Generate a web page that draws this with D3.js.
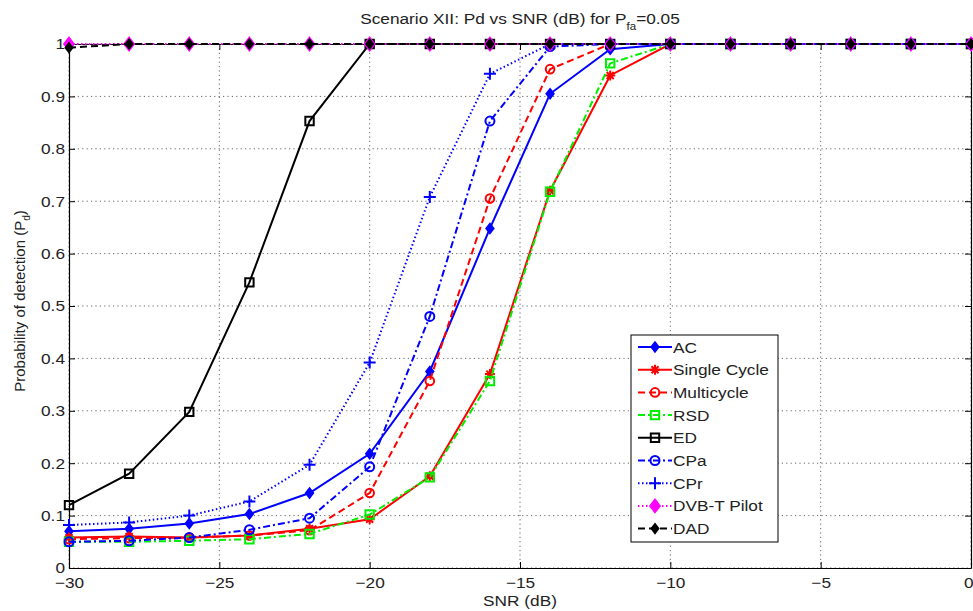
<!DOCTYPE html>
<html>
<head>
<meta charset="utf-8">
<script src="https://cdn.jsdelivr.net/npm/d3@7"></script>
<style>
  html, body { margin: 0; padding: 0; background: #fff; }
  svg text { font-family: "Liberation Sans", Arial, Helvetica, sans-serif; fill: #222; }
</style>
</head>
<body>
<svg id="chart" width="973" height="611"></svg>
<script>
// SNR sweep (dB) and detection probabilities per detector
const snr = [-30, -28, -26, -24, -22, -20, -18, -16, -14, -12, -10, -8, -6, -4, -2, 0];

const pdAC     = [0.070, 0.075, 0.085, 0.103, 0.143, 0.218, 0.375, 0.648, 0.905, 0.990, 1, 1, 1, 1, 1, 1];
const pdSingle = [0.058, 0.060, 0.058, 0.062, 0.075, 0.093, 0.175, 0.370, 0.720, 0.940, 1, 1, 1, 1, 1, 1];
const pdMulti  = [0.055, 0.057, 0.058, 0.062, 0.072, 0.143, 0.357, 0.705, 0.952, 1, 1, 1, 1, 1, 1, 1];
const pdRSD    = [0.050, 0.050, 0.052, 0.055, 0.065, 0.102, 0.173, 0.357, 0.718, 0.963, 1, 1, 1, 1, 1, 1];
const pdED     = [0.120, 0.180, 0.298, 0.545, 0.853, 1, 1, 1, 1, 1, 1, 1, 1, 1, 1, 1];
const pdCPa    = [0.050, 0.052, 0.058, 0.073, 0.095, 0.193, 0.480, 0.853, 0.995, 1, 1, 1, 1, 1, 1, 1];
const pdCPr    = [0.082, 0.087, 0.100, 0.127, 0.197, 0.392, 0.708, 0.943, 1, 1, 1, 1, 1, 1, 1, 1];
const pdDVBT   = [1, 1, 1, 1, 1, 1, 1, 1, 1, 1, 1, 1, 1, 1, 1, 1];
const pdDAD    = [0.993, 1, 1, 1, 1, 1, 1, 1, 1, 1, 1, 1, 1, 1, 1, 1];

const seriesNames = ["AC", "Single Cycle", "Multicycle", "RSD", "ED", "CPa", "CPr", "DVB-T Pilot", "DAD"];
const seriesValues = [pdAC, pdSingle, pdMulti, pdRSD, pdED, pdCPa, pdCPr, pdDVBT, pdDAD];

const xTicks = [-30, -25, -20, -15, -10, -5, 0];
const yTicks = [0, 0.1, 0.2, 0.3, 0.4, 0.5, 0.6, 0.7, 0.8, 0.9, 1];

// Line / marker styling per detector
const styles = [
  { color: "#0000ff", dash: null,          marker: "diamond",  fill: "#0000ff", size: 3.6 },
  { color: "#ff0000", dash: null,          marker: "asterisk", fill: "none",    size: 5 },
  { color: "#ff0000", dash: "7,4",         marker: "circle",   fill: "none",    size: 4.3 },
  { color: "#00ee00", dash: "7,3,2,3",     marker: "square",   fill: "none",    size: 4.2 },
  { color: "#000000", dash: null,          marker: "square",   fill: "none",    size: 4.2 },
  { color: "#0000ff", dash: "7,3,2,3",     marker: "circle",   fill: "none",    size: 4.5 },
  { color: "#0000ff", dash: "1.5,2.5",     marker: "plus",     fill: "none",    size: 6 },
  { color: "#ff00ff", dash: "1.5,2.5",     marker: "diamond",  fill: "#ff00ff", size: 4.8 },
  { color: "#000000", dash: "7,4",         marker: "diamond",  fill: "#000000", size: 3.4 }
];

const FONT = 15;        // text size
const STRETCH = 1.15;   // horizontal glyph stretch of all labels

const svg = d3.select("#chart");
const W = 973, H = 611;
const plot = { left: 69, right: 971, top: 44, bottom: 568 };

svg.append("rect").attr("width", W).attr("height", H).attr("fill", "#fff");

const x = d3.scaleLinear().domain([-30, 0]).range([plot.left, plot.right]);
const y = d3.scaleLinear().domain([0, 1]).range([plot.bottom, plot.top]);

// Dotted grid
const grid = svg.append("g").attr("stroke", "#333").attr("stroke-width", 1)
  .attr("stroke-dasharray", "1.2,3.2").attr("opacity", 0.75);
xTicks.forEach(t => grid.append("line")
  .attr("x1", x(t)).attr("x2", x(t)).attr("y1", plot.top).attr("y2", plot.bottom));
yTicks.forEach(t => grid.append("line")
  .attr("x1", plot.left).attr("x2", plot.right).attr("y1", y(t)).attr("y2", y(t)));

// Axes with inward ticks on all four sides
const tickFmt = d3.format("~g");
const axB = svg.append("g").attr("transform", `translate(0,${plot.bottom})`)
  .call(d3.axisBottom(x).tickValues(xTicks).tickSizeInner(-6).tickSizeOuter(0).tickPadding(9).tickFormat(tickFmt));
const axL = svg.append("g").attr("transform", `translate(${plot.left},0)`)
  .call(d3.axisLeft(y).tickValues(yTicks).tickSizeInner(-6).tickSizeOuter(0).tickPadding(4).tickFormat(tickFmt));
const axT = svg.append("g").attr("transform", `translate(0,${plot.top})`)
  .call(d3.axisTop(x).tickValues(xTicks).tickSizeInner(-6).tickSizeOuter(0).tickFormat(""));
const axR = svg.append("g").attr("transform", `translate(${plot.right},0)`)
  .call(d3.axisRight(y).tickValues(yTicks).tickSizeInner(-6).tickSizeOuter(0).tickFormat(""));
[axB, axL, axT, axR].forEach(a => {
  a.select(".domain").attr("stroke", "#000").attr("stroke-width", 1.2);
  a.selectAll(".tick line").attr("stroke", "#000");
  a.selectAll("text").style("font-size", FONT + "px").attr("fill", "#222");
});
// widen tick label glyphs about their anchor point
axB.selectAll(".tick text").attr("transform", `scale(${STRETCH},1)`);
axL.selectAll(".tick text").each(function () {
  const t = d3.select(this);
  const tx = +t.attr("x");
  t.attr("x", 0).attr("transform", `translate(${tx},0) scale(${STRETCH},1)`);
});
// keep the rightmost x label inside the canvas
axB.selectAll(".tick text").filter(d => d === 0)
  .attr("text-anchor", "end").attr("transform", `translate(2,0) scale(${STRETCH},1)`);

// Marker shapes
function markerPath(type, s) {
  switch (type) {
    case "diamond": return `M0,${-s * 1.3}L${s},0L0,${s * 1.3}L${-s},0Z`;
    case "square":  return `M${-s},${-s}H${s}V${s}H${-s}Z`;
    case "circle":  return `M${s},0A${s},${s} 0 1,1 ${-s},0A${s},${s} 0 1,1 ${s},0Z`;
    case "plus":    return `M${-s},0H${s}M0,${-s}V${s}`;
    case "asterisk": {
      const d = s * 0.7;
      return `M${-s},0H${s}M0,${-s}V${s}M${-d},${-d}L${d},${d}M${-d},${d}L${d},${-d}`;
    }
  }
}

const line = d3.line().x((d, i) => x(snr[i])).y(d => y(d));

const layers = svg.append("g");
seriesValues.forEach((vals, k) => {
  const st = styles[k];
  const g = layers.append("g");
  g.append("path").datum(vals).attr("d", line)
    .attr("fill", "none").attr("stroke", st.color).attr("stroke-width", 2)
    .attr("stroke-dasharray", st.dash);
  g.selectAll("path.m").data(vals).join("path").attr("class", "m")
    .attr("transform", (d, i) => `translate(${x(snr[i])},${y(d)})`)
    .attr("d", markerPath(st.marker, st.size))
    .attr("fill", st.fill).attr("stroke", st.color).attr("stroke-width", 2);
});

// Title
const title = svg.append("text")
  .attr("transform", `translate(${(plot.left + plot.right) / 2},24) scale(${STRETCH},1)`)
  .attr("text-anchor", "middle").style("font-size", FONT + "px");
title.append("tspan").text("Scenario XII: Pd vs SNR (dB) for P");
title.append("tspan").attr("dy", 6).style("font-size", "10px").text("fa");
title.append("tspan").attr("dy", -6).text("=0.05");

// Axis labels
svg.append("text")
  .attr("transform", `translate(${(plot.left + plot.right) / 2},606) scale(${STRETCH},1)`)
  .attr("text-anchor", "middle").style("font-size", FONT + "px").text("SNR (dB)");
const yl = svg.append("text").attr("transform", `translate(25,301) rotate(-90)`)
  .attr("text-anchor", "middle").style("font-size", FONT + "px");
yl.append("tspan").text("Probability of detection (P");
yl.append("tspan").attr("dy", 5).style("font-size", "10px").text("d");
yl.append("tspan").attr("dy", -5).text(")");

// Legend
const lg = { x: 631, y: 335, w: 147, h: 207, row: 22.7 };
const legend = svg.append("g");
legend.append("rect").attr("x", lg.x).attr("y", lg.y).attr("width", lg.w).attr("height", lg.h)
  .attr("fill", "#fff").attr("stroke", "#000").attr("stroke-width", 1);
seriesNames.forEach((name, k) => {
  const st = styles[k];
  const cy = lg.y + 12 + k * lg.row;
  legend.append("line").attr("x1", lg.x + 7).attr("x2", lg.x + 41).attr("y1", cy).attr("y2", cy)
    .attr("stroke", st.color).attr("stroke-width", 2).attr("stroke-dasharray", st.dash);
  legend.append("path").attr("transform", `translate(${lg.x + 24},${cy})`)
    .attr("d", markerPath(st.marker, st.size))
    .attr("fill", st.fill).attr("stroke", st.color).attr("stroke-width", 2);
  legend.append("text").attr("transform", `translate(${lg.x + 42},${cy + 5.5}) scale(${STRETCH},1)`)
    .style("font-size", FONT + "px").text(name);
});
</script>
</body>
</html>
